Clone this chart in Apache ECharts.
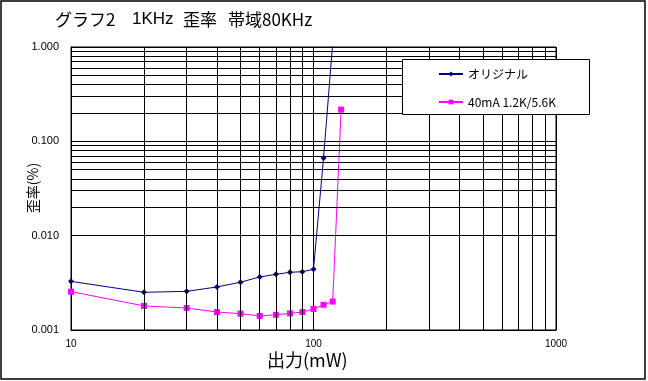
<!DOCTYPE html>
<html>
<head>
<meta charset="utf-8">
<script src="https://cdn.jsdelivr.net/npm/echarts@6/dist/echarts.min.js"></script>
<style>html,body{margin:0;padding:0;background:#fff;}#c{width:648px;height:381px;}</style>
</head>
<body>
<div id="c"></div>
<script>
// ---- data ----
const seriesNames = ['オリジナル', '40mA 1.2K/5.6K'];
const xOriginal = [10, 20, 30, 40, 50, 60, 70, 80, 90, 100, 110, 120];
const yOriginal = [0.00328, 0.00251, 0.00257, 0.00286, 0.00321, 0.00365, 0.00389, 0.00409, 0.00415, 0.0044, 0.0667, 1.1];
const x40mA = [10, 20, 30, 40, 50, 60, 70, 80, 90, 100, 110, 120, 130];
const y40mA = [0.00255, 0.0018, 0.00171, 0.00155, 0.00149, 0.00141, 0.00145, 0.0015, 0.00155, 0.00167, 0.00185, 0.002, 0.217];
const xMinorTicks = [20, 30, 40, 50, 60, 70, 80, 90, 200, 300, 400, 500, 600, 700, 800, 900];
const yMinorTicks = [0.002, 0.003, 0.004, 0.005, 0.006, 0.007, 0.008, 0.009,
                     0.02, 0.03, 0.04, 0.05, 0.06, 0.07, 0.08, 0.09,
                     0.2, 0.3, 0.4, 0.5, 0.6, 0.7, 0.8, 0.9];

const chart = echarts.init(document.getElementById('c'));
const pairs = (xs, ys) => xs.map((x, i) => [x, ys[i]]);
const minorLines = [].concat(
  xMinorTicks.map(v => ({ xAxis: v })),
  yMinorTicks.map(v => ({ yAxis: v }))
);
const latin = 'Liberation Sans, Arial, sans-serif';
const jp = '"Noto Sans CJK JP", sans-serif';

chart.setOption({
  backgroundColor: '#fff',
  animation: false,
  grid: { left: 71, top: 47, right: 92, bottom: 51, show: true, borderColor: '#000', borderWidth: 1, backgroundColor: '#fff' },
  xAxis: {
    type: 'log', logBase: 10, min: 10, max: 1000,
    axisLine: { show: true, lineStyle: { color: '#000', width: 1 } },
    axisTick: { show: false },
    splitLine: { show: true, lineStyle: { color: '#000', width: 1 } },
    axisLabel: { color: '#000', fontSize: 10, fontFamily: latin, margin: 9, formatter: v => String(Math.round(v)) }
  },
  yAxis: {
    type: 'log', logBase: 10, min: 0.001, max: 1,
    axisLine: { show: true, lineStyle: { color: '#000', width: 1 } },
    axisTick: { show: false },
    splitLine: { show: true, lineStyle: { color: '#000', width: 1 } },
    axisLabel: { color: '#000', fontSize: 11, fontFamily: latin, margin: 12, formatter: v => Number(v).toFixed(3) }
  },
  legend: {
    data: seriesNames,
    orient: 'vertical', left: 438, top: 68, padding: 0,
    itemWidth: 24, itemHeight: 6, itemGap: 16,
    textStyle: { color: '#000', fontSize: 12, fontFamily: jp },
    z: 10
  },
  graphic: [
    { type: 'rect', shape: { x: 1, y: 1, width: 644, height: 378 }, style: { fill: 'none', stroke: '#000', lineWidth: 1.5 }, z: 20, silent: true },
    { type: 'rect', shape: { x: 402.5, y: 59.5, width: 187, height: 55 }, style: { fill: '#fff', stroke: '#000', lineWidth: 1 }, z: 8, silent: true },
    { type: 'text', left: 55, top: 11, style: { text: 'グラフ2', fontSize: 17, fontFamily: jp, fill: '#000' }, z: 10 },
    { type: 'text', left: 132, top: 11, style: { text: '1KHz', fontSize: 17, fontFamily: latin, fill: '#000' }, z: 10 },
    { type: 'text', left: 183, top: 11, style: { text: '歪率', fontSize: 17, fontFamily: jp, fill: '#000' }, z: 10 },
    { type: 'text', left: 228, top: 11, style: { text: '帯域80KHz', fontSize: 17, fontFamily: jp, fill: '#000' }, z: 10 },
    { type: 'text', x: 33, y: 188, rotation: Math.PI / 2, style: { text: '歪率(%)', fontSize: 14, fontFamily: jp, fill: '#000', align: 'center', verticalAlign: 'middle' }, z: 10 },
    { type: 'text', left: 267, top: 351, style: { text: '出力(mW)', fontSize: 18, fontFamily: jp, fill: '#000' }, z: 10 }
  ],
  series: [
    {
      name: 'grid-minor', type: 'line', data: [[10, 0.001]], symbol: 'none',
      lineStyle: { opacity: 0 }, silent: true, z: 1,
      markLine: {
        silent: true, symbol: ['none', 'none'], label: { show: false },
        lineStyle: { color: '#000', width: 1, type: 'solid' },
        animation: false, data: minorLines
      }
    },
    {
      name: seriesNames[0], type: 'line', data: pairs(xOriginal, yOriginal),
      color: '#000080', symbol: 'diamond', symbolSize: 6, clip: true,
      lineStyle: { color: '#000080', width: 1 }, itemStyle: { color: '#000080' }, z: 3
    },
    {
      name: seriesNames[1], type: 'line', data: pairs(x40mA, y40mA),
      color: '#ff00ff', symbol: 'rect', symbolSize: 6, clip: true,
      lineStyle: { color: '#ff00ff', width: 1 }, itemStyle: { color: '#ff00ff' }, z: 3
    }
  ]
});
</script>
</body>
</html>
